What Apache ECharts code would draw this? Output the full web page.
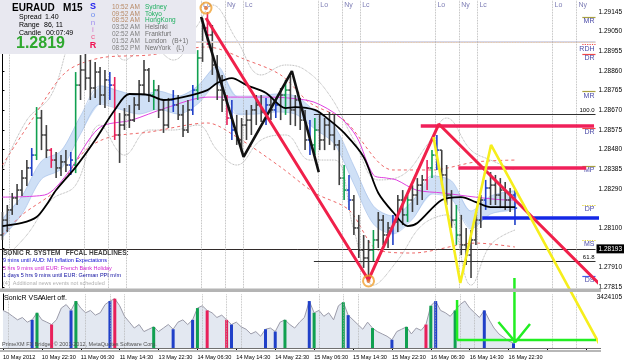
<!DOCTYPE html>
<html>
<head>
<meta charset="utf-8">
<script src="https://cdn.jsdelivr.net/npm/echarts@6/dist/echarts.min.js"></script>
<style>
html, body { margin: 0; padding: 0; background: #fff; }
#chart { width: 625px; height: 363px; }
</style>
</head>
<body>
<div id="chart"></div>
<script>
// time labels every 8 hourly bars, price scale labels
var timeLabels = ['10 May 2012', '10 May 22:30', '11 May 06:30', '11 May 14:30', '13 May 22:30', '14 May 06:30',
  '14 May 14:30', '14 May 22:30', '15 May 06:30', '15 May 14:30', '15 May 22:30', '16 May 06:30', '16 May 14:30', '16 May 22:30'];
var priceTicks = [1.27815, 1.27910, 1.28005, 1.28100, 1.28290, 1.28385, 1.28480, 1.28575, 1.28670,
  1.28765, 1.28860, 1.28955, 1.29050, 1.29145];
var bidPrice = 1.28193;
var volMax = 3424105;

// bars: [open, close, low, high]
var bars = [
  [1.28067,1.28139,1.28043,1.28178],[1.28139,1.28188,1.28081,1.28212],[1.28188,1.28246,1.28164,1.28270],
  [1.28246,1.28284,1.28212,1.28313],[1.28284,1.28342,1.28255,1.28381],[1.28342,1.28391,1.28304,1.28429],
  [1.28391,1.28453,1.28352,1.28487],[1.28453,1.28632,1.28429,1.28685],[1.28632,1.28550,1.28477,1.28671],
  [1.28550,1.28477,1.28439,1.28598],[1.28477,1.28429,1.28391,1.28487],[1.28429,1.28391,1.28342,1.28468],
  [1.28391,1.28420,1.28352,1.28453],[1.28420,1.28405,1.28371,1.28477],[1.28405,1.28429,1.28357,1.28468],
  [1.28405,1.28791,1.28366,1.28854],[1.28791,1.28864,1.28719,1.28936],[1.28864,1.28825,1.28767,1.28951],
  [1.28825,1.28777,1.28719,1.28912],[1.28777,1.28854,1.28729,1.28903],[1.28854,1.28743,1.28695,1.28878],
  [1.28743,1.28816,1.28680,1.28864],[1.28816,1.28791,1.28719,1.28854],[1.28791,1.28550,1.28526,1.28830],
  [1.28550,1.28598,1.28415,1.28656],[1.28598,1.28647,1.28574,1.28680],[1.28647,1.28622,1.28584,1.28695],
  [1.28622,1.28695,1.28613,1.28733],[1.28695,1.28791,1.28671,1.28816],[1.28791,1.28864,1.28743,1.28912],
  [1.28864,1.28743,1.28709,1.28874],[1.28743,1.28767,1.28671,1.28816],[1.28767,1.28671,1.28632,1.28791],
  [1.28671,1.28598,1.28560,1.28719],[1.28598,1.28719,1.28584,1.28729],[1.28719,1.28695,1.28661,1.28767],
  [1.28695,1.28647,1.28622,1.28743],[1.28647,1.28574,1.28540,1.28695],[1.28574,1.28671,1.28560,1.28719],
  [1.28671,1.28767,1.28647,1.28791],[1.28767,1.28922,1.28719,1.28960],[1.28922,1.29067,1.28903,1.29115],
  [1.29067,1.29033,1.28985,1.29144],[1.29033,1.28888,1.28840,1.29081],[1.28888,1.28767,1.28719,1.28936],
  [1.28767,1.28719,1.28661,1.28840],[1.28719,1.28632,1.28598,1.28743],[1.28632,1.28574,1.28526,1.28719],
  [1.28574,1.28526,1.28502,1.28647],[1.28526,1.28598,1.28468,1.28632],[1.28598,1.28622,1.28526,1.28671],
  [1.28622,1.28671,1.28550,1.28695],[1.28671,1.28695,1.28598,1.28743],[1.28695,1.28661,1.28613,1.28743],
  [1.28661,1.28695,1.28598,1.28729],[1.28695,1.28671,1.28622,1.28733],[1.28671,1.28695,1.28632,1.28719],
  [1.28695,1.28743,1.28622,1.28777],[1.28743,1.28767,1.28647,1.28816],[1.28767,1.28671,1.28598,1.28835],
  [1.28671,1.28719,1.28593,1.28743],[1.28719,1.28622,1.28574,1.28729],[1.28622,1.28526,1.28477,1.28671],
  [1.28526,1.28502,1.28453,1.28622],[1.28502,1.28574,1.28453,1.28632],[1.28574,1.28526,1.28477,1.28647],
  [1.28526,1.28598,1.28477,1.28632],[1.28598,1.28550,1.28502,1.28661],[1.28550,1.28502,1.28477,1.28647],
  [1.28502,1.28342,1.28308,1.28526],[1.28342,1.28284,1.28236,1.28405],[1.28284,1.28236,1.28188,1.28357],
  [1.28236,1.28101,1.28067,1.28260],[1.28101,1.27994,1.27956,1.28164],[1.27994,1.27956,1.27908,1.28067],
  [1.27956,1.27994,1.27859,1.28043],[1.27994,1.28043,1.27937,1.28091],[1.28043,1.28139,1.28004,1.28178],
  [1.28139,1.28067,1.28019,1.28164],[1.28067,1.28101,1.28004,1.28130],[1.28101,1.28130,1.28019,1.28164],
  [1.28130,1.28236,1.28081,1.28260],[1.28236,1.28164,1.28115,1.28284],[1.28164,1.28236,1.28130,1.28260],
  [1.28236,1.28260,1.28178,1.28308],[1.28260,1.28308,1.28212,1.28342],[1.28308,1.28333,1.28236,1.28357],
  [1.28333,1.28391,1.28284,1.28429],[1.28391,1.28453,1.28342,1.28477],[1.28453,1.28477,1.28381,1.28550],
  [1.28477,1.28357,1.28308,1.28477],[1.28357,1.28260,1.28212,1.28405],[1.28260,1.28139,1.28101,1.28284],
  [1.28139,1.28067,1.28019,1.28212],[1.28067,1.28019,1.27970,1.28164],[1.28019,1.27970,1.27922,1.28101],
  [1.27970,1.28043,1.27859,1.28091],[1.28043,1.28139,1.28019,1.28178],[1.28139,1.28236,1.28101,1.28260],
  [1.28236,1.28294,1.28188,1.28333],[1.28294,1.28308,1.28212,1.28371],[1.28308,1.28260,1.28212,1.28357],
  [1.28260,1.28284,1.28197,1.28342],[1.28284,1.28236,1.28188,1.28323],[1.28236,1.28260,1.28178,1.28294],
  [1.28260,1.28197,1.28115,1.28284]
];

var volume = [
  2382000,2233000,2010000,1786000,1935000,1638000,1786000,2233000,1786000,1638000,
  1489000,1786000,2531000,2754000,2382000,2977000,2531000,2233000,2382000,2084000,
  2233000,2754000,2977000,3126000,2680000,2010000,1638000,1265000,1489000,1042000,
  1191000,1340000,1042000,1265000,1489000,1191000,1638000,1786000,1489000,1786000,
  2531000,2680000,2382000,2233000,1935000,2084000,1786000,1489000,1638000,1340000,
  1191000,893000,1042000,744000,1191000,1265000,1042000,1638000,1786000,1489000,
  1265000,1638000,1935000,2977000,2233000,2382000,2010000,2233000,1786000,2680000,
  2903000,2084000,1786000,1489000,1191000,1638000,1265000,1042000,893000,744000,
  521000,1042000,1191000,1340000,893000,1265000,1117000,1489000,2680000,2977000,
  2382000,2233000,2010000,2382000,2754000,2977000,2531000,2233000,1935000,2382000,
  1786000,1265000,893000,670000,447000,298000
];

// VSA signal bars (bar indices)
var vsaGreen = [7, 15, 31, 40, 58, 64, 70, 76, 83, 88, 93];
var vsaBlue = [6, 14, 22, 35, 39, 47, 54, 56, 63, 71, 80, 89, 99, 105];
var vsaRed = [10, 23, 42, 46, 87];

// indicator lines [bar index, price]
var maSlow = [[0,1.28110],[4,1.28125],[7,1.28154],[9,1.28212],[11,1.28284],[15,1.28395],[19,1.28526],[23,1.28671],
  [26,1.28748],[30,1.28743],[33,1.28719],[37,1.28733],[42,1.28767],[44,1.28801],[47,1.28825],[50,1.28791],
  [54,1.28753],[58,1.28680],[60,1.28685],[64,1.28671],[67,1.28622],[70,1.28560],[74,1.28444],[77,1.28270],
  [80,1.28178],[83,1.28110],[85,1.28125],[90,1.28236],[94,1.28250],[97,1.28226],[100,1.28202],[105,1.28202]];
var maLong = [[0,1.28250],[8.6,1.28260],[13.1,1.28357],[19.8,1.28584],[26.5,1.28622],[33.4,1.28680],[42.1,1.28733],
  [48.2,1.28733],[53.7,1.28733],[58.4,1.28729],[63.8,1.28709],[69.1,1.28637],[72.6,1.28540],[76,1.28357],
  [78.7,1.28342],[80.7,1.28333],[84.8,1.28284],[90.2,1.28270],[96.9,1.28250],[103.6,1.28236],[105.4,1.28236]];
var dragonIdx = [0,4,8,12,16,20,24,28,32,36,40,44,48,52,56,60,64,68,72,76,80,84,88,92,96,100,105];
var dragonHigh = [1.28144,1.28255,1.28424,1.28473,1.28642,1.28787,1.28762,1.28738,1.28762,1.28738,1.28787,1.28883,
  1.28738,1.28738,1.28748,1.28738,1.28666,1.28593,1.28400,1.28207,1.28159,1.28231,1.28352,1.28328,1.28183,1.28255,1.28280];
var dragonLow = [1.28057,1.28168,1.28337,1.28386,1.28555,1.28700,1.28675,1.28651,1.28675,1.28651,1.28700,1.28796,
  1.28651,1.28651,1.28661,1.28651,1.28579,1.28507,1.28313,1.28120,1.28072,1.28144,1.28265,1.28241,1.28096,1.28168,1.28193];
var envUpper = [[0,1.28405],[6,1.28622],[13,1.28854],[20,1.28922],[30,1.28936],[42,1.28975],[50,1.28912],[57,1.28840],
  [63,1.28705],[70,1.28622],[80,1.28381],[88,1.28381],[97,1.28420],[105,1.28429]];
var envLower = [[0,1.28067],[4,1.28164],[11,1.28284],[17,1.28477],[22,1.28540],[30,1.28564],[42,1.28608],[48,1.28540],
  [57,1.28395],[64,1.28270],[71,1.28188],[77,1.27994],[84,1.27980],[97,1.28028],[105,1.28009]];
var bandUpper = [[0,1.28381],[5,1.28622],[10,1.28743],[15,1.29057],[20,1.29105],[25,1.28912],[30,1.28985],[35,1.28912],
  [40,1.29081],[43,1.29178],[48,1.29009],[53,1.28840],[58,1.28888],[62,1.28864],[67,1.28743],[72,1.28526],
  [77,1.28333],[82,1.28357],[87,1.28502],[91,1.28632],[96,1.28477],[100,1.28429],[105,1.28381]];
var bandLower = [[0,1.27946],[5,1.28067],[10,1.28236],[15,1.28308],[20,1.28598],[25,1.28453],[30,1.28574],[35,1.28574],
  [40,1.28598],[44,1.28477],[48,1.28405],[53,1.28526],[58,1.28550],[63,1.28429],[68,1.28429],[72,1.28091],
  [76,1.27825],[81,1.27946],[86,1.28115],[91,1.28164],[96,1.27825],[100,1.28019],[105,1.28091]];

// drawn objects
var zigRed = [[41.7,1.29115],[75,1.27850],[89.4,1.28603],[125,1.27767]];
var zigBlack = [[40.7,1.29120],[49.4,1.28444],[59.3,1.28859],[64.8,1.28371]];
var zigYellow = [[88.3,1.28540],[93.8,1.27835],[100.1,1.28502],[122.4,1.27536]];
var redLevels = [[85.7,121.2,1.28593],[93.4,119.6,1.28391]];
var blueLevel = [98.3,122.6,1.28149];
var fibLevels = [[63.8,1.28651,'100.0'],[63.8,1.27941,'61.8']];
var swingMarks = [[41.7,1.29163],[75,1.27845]];
var sessionLo = [16.7, 40.7, 64.7, 88.7, 112.7];
var sessionNy = [21.6, 45.6, 69.6, 93.6, 117.6];
var sessionLc = [1.3, 25.3, 49.3, 73.3, 97.3];
var pivotNames = ['MR', 'RDH', 'DR', 'MR', 'DR', 'MP', 'DP', 'MS', 'DS'];
var pivotPrices = [1.29120, 1.28989, 1.28941, 1.28762, 1.28584, 1.28400, 1.28212, 1.28043, 1.27869];
var pivotColors = ['#a8a040', '#f04848', '#f04848', '#a8a040', '#f04848', '#a8a040', '#e0d030', '#e0d030', '#4060f0'];
var greenMarks = [
  [[93.4,507000],[124,507000]],
  [[93.4,3043600],[93.4,507000]],
  [[105.2,4438600],[105.2,317000]],
  [[101.9,1648600],[105.4,380500],[108.4,1521800]]
];

var N = 122;
var cats = [];
for (var i = 0; i < N; i++) cats.push(i);

function barColor(i) {
  if (vsaGreen.indexOf(i) >= 0) return '#10a050';
  if (vsaBlue.indexOf(i) >= 0) return '#2040c8';
  if (vsaRed.indexOf(i) >= 0) return '#e8205a';
  return '#404040';
}

function renderOhlc(params, api) {
  var i = api.value(0);
  var o = api.coord([i, api.value(1)]);
  var c = api.coord([i, api.value(2)]);
  var l = api.coord([i, api.value(3)]);
  var h = api.coord([i, api.value(4)]);
  var st = { stroke: barColor(i), lineWidth: 1.6 };
  return {
    type: 'group',
    children: [
      { type: 'line', shape: { x1: h[0], y1: h[1], x2: l[0], y2: l[1] }, style: st },
      { type: 'line', shape: { x1: o[0] - 2.2, y1: o[1], x2: o[0], y2: o[1] }, style: st },
      { type: 'line', shape: { x1: c[0], y1: c[1], x2: c[0] + 2.2, y2: c[1] }, style: st }
    ]
  };
}

// light blue dragon band as one polygon between the high and low lines
function renderDragon(params, api) {
  var pts = [];
  dragonIdx.forEach(function (x, k) { pts.push(api.coord([x, dragonHigh[k]])); });
  for (var k = dragonIdx.length - 1; k >= 0; k--) pts.push(api.coord([dragonIdx[k], dragonLow[k]]));
  return { type: 'polygon', shape: { points: pts, smooth: 0.25 }, style: { fill: '#cfe0f6' } };
}

function overlay(pts, color, width, type, smooth, z) {
  return {
    type: 'line', xAxisIndex: 1, yAxisIndex: 0, data: pts, symbol: 'none', clip: false,
    smooth: smooth || false, z: z || 3, silent: true,
    lineStyle: { color: color, width: width, type: type || 'solid' }
  };
}

function vsaSeries(list, color) {
  return {
    type: 'bar', xAxisIndex: 2, yAxisIndex: 1, barWidth: 3, barGap: '-100%', z: 4,
    data: volume.map(function (v, i) { return list.indexOf(i) >= 0 ? v : '-'; }),
    itemStyle: { color: color }
  };
}

function txt(x, y, s, font, fill, align) {
  return { type: 'text', x: x, y: y, z: 100,
    style: { text: s, font: font, fill: fill, verticalAlign: 'middle', align: align || 'left' } };
}

var series = [];

series.push({
  type: 'custom', xAxisIndex: 1, yAxisIndex: 0, renderItem: renderDragon, z: 1, silent: true,
  data: [[0, dragonLow[0]]]
});
series.push(overlay(dragonIdx.map(function (x, k) { return [x, dragonHigh[k]]; }), '#a8c2ea', 0.7, 'solid', 0.3, 1));
series.push(overlay(dragonIdx.map(function (x, k) { return [x, dragonLow[k]]; }), '#a8c2ea', 0.7, 'solid', 0.3, 1));

series.push(overlay(bandUpper, '#9a9a9a', 0.8, 'dotted', 0.4, 2));
series.push(overlay(bandLower, '#9a9a9a', 0.8, 'dotted', 0.4, 2));
series.push(overlay(envUpper, '#e84040', 0.8, [3, 3], 0.3, 2));
series.push(overlay(envLower, '#e84040', 0.8, [3, 3], 0.3, 2));
series.push(overlay(maLong, '#e040e0', 1, 'solid', 0.3, 3));

// price bars
series.push({
  type: 'custom', xAxisIndex: 0, yAxisIndex: 0, renderItem: renderOhlc, z: 4,
  encode: { x: 0, y: [1, 2, 3, 4] },
  data: bars.map(function (b, i) { return [i, b[0], b[1], b[2], b[3]]; })
});

series.push(overlay(maSlow, '#000000', 1.8, 'solid', 0.3, 5));

// horizontal levels, session lines and labels
series.push({
  type: 'scatter', xAxisIndex: 1, yAxisIndex: 0, symbolSize: 0, z: 6, silent: true,
  data: [],
  markLine: {
    symbol: 'none', silent: true, animation: false,
    label: { show: false },
    data: [
      { yAxis: 1.28999, lineStyle: { color: '#d6d6e6', width: 2, type: 'solid' } },
      { yAxis: 1.28753, lineStyle: { color: '#f4c890', width: 0.8, type: 'dotted' } },
      { yAxis: 1.28497, lineStyle: { color: '#a8e0a0', width: 0.8, type: 'dotted' } },
      { yAxis: 1.28255, lineStyle: { color: '#f6c8cc', width: 0.8, type: 'solid' } },
      { yAxis: bidPrice, lineStyle: { color: '#000', width: 0.8, type: 'solid' },
        label: { show: true, position: 'end', formatter: bidPrice.toFixed(5), color: '#fff',
          backgroundColor: '#000', fontSize: 6.5, padding: [1, 2], distance: 1, fontFamily: 'Liberation Sans' } }
    ].concat(sessionLo.concat(sessionNy, sessionLc).map(function (x) {
      return { xAxis: x, lineStyle: { color: '#a8a8a8', width: 0.8, type: 'dotted' } };
    })).concat(fibLevels.map(function (f) {
      return [{ coord: [f[0], f[1]], lineStyle: { color: '#303030', width: 1, type: 'solid' },
        label: { show: true, position: 'insideEndTop', formatter: f[2], fontSize: 6, color: '#000',
          distance: 1, fontFamily: 'Liberation Sans' } }, { coord: [N - 0.5, f[1]] }];
    })).concat(pivotNames.map(function (n, k) {
      return [{ coord: [118.8, pivotPrices[k]], lineStyle: { color: pivotColors[k], width: 1.2, type: n === 'RDH' || n === 'DP' || n === 'MS' ? 'dotted' : 'solid' },
        label: { show: true, position: 'insideEndBottom', formatter: n, fontSize: 7, color: '#4a4aa8',
          distance: 1, fontFamily: 'Liberation Sans' } }, { coord: [N - 0.5, pivotPrices[k]] }];
    }))
  }
});

['Lo', 'Ny', 'Lc'].forEach(function (name, k) {
  var xs = [sessionLo, sessionNy, sessionLc][k];
  series.push({
    type: 'scatter', xAxisIndex: 1, yAxisIndex: 0, symbolSize: 0, z: 6, silent: true,
    data: xs.map(function (x) { return [x, 1.29176]; }),
    label: { show: true, position: 'right', distance: 2, formatter: name, fontSize: 7, color: '#5a5aa0',
      fontFamily: 'Liberation Sans' }
  });
});

// drawn trend objects
redLevels.forEach(function (r) {
  series.push(overlay([[r[0], r[2]], [r[1], r[2]]], '#f0205a', 3.5, 'solid', false, 7));
});
series.push(overlay([[blueLevel[0], blueLevel[2]], [blueLevel[1], blueLevel[2]]], '#1428e6', 3.5, 'solid', false, 7));
series.push(overlay(zigBlack, '#111111', 2.6, 'solid', false, 8));
series.push(overlay(zigRed, '#f0204a', 3, 'solid', false, 8));
series.push(overlay(zigYellow, '#f6ee1c', 2.6, 'solid', false, 8));

series.push({
  type: 'scatter', xAxisIndex: 1, yAxisIndex: 0, symbol: 'circle', symbolSize: 11, z: 9, silent: true,
  data: swingMarks, itemStyle: { color: 'rgba(255,255,255,0)', borderColor: '#f0a030', borderWidth: 2 }
});
series.push({
  type: 'scatter', xAxisIndex: 1, yAxisIndex: 0, symbol: 'circle', symbolSize: 4, z: 9, silent: true,
  data: swingMarks, itemStyle: { color: '#e06820' }
});

// indicator window
series.push({
  type: 'line', xAxisIndex: 2, yAxisIndex: 1, data: volume, symbol: 'none', z: 2,
  lineStyle: { color: '#9c9caa', width: 1 }, areaStyle: { color: '#e3e8f1', opacity: 1 },
  markLine: {
    symbol: 'none', silent: true, label: { show: false },
    data: sessionLo.concat(sessionNy, sessionLc).map(function (x) {
      return { xAxis: Math.round(x), lineStyle: { color: '#b0b0b0', width: 0.8, type: 'dotted' } };
    })
  }
});
series.push(vsaSeries(vsaBlue, '#2040c8'));
series.push(vsaSeries(vsaGreen, '#10a050'));
series.push(vsaSeries(vsaRed, '#e8205a'));
greenMarks.forEach(function (g) {
  series.push({
    type: 'line', xAxisIndex: 3, yAxisIndex: 1, data: g, symbol: 'none', clip: false, z: 10,
    lineStyle: { color: '#22ee22', width: 2.5 }
  });
});

var graphics = [
  { type: 'rect', z: 99, shape: { x: 0, y: 0, width: 196, height: 54 }, style: { fill: '#e8e8f0' } },
  txt(12, 8, 'EURAUD   M15', 'bold 10px "Liberation Sans"', '#000'),
  txt(19, 17, 'Spread', '7px "Liberation Sans"', '#000'),
  txt(45, 17, '1.40', '7px "Liberation Sans"', '#000'),
  txt(19, 25, 'Range', '7px "Liberation Sans"', '#000'),
  txt(44, 25, '86, 11', '7px "Liberation Sans"', '#000'),
  txt(19, 33, 'Candle', '7px "Liberation Sans"', '#000'),
  txt(46, 33, '00:07:49', '7px "Liberation Sans"', '#000'),
  txt(16, 44, '1.2819', 'bold 16px "Liberation Sans"', '#2fa82f'),
  txt(93, 7, 'S', 'bold 9px "Liberation Sans"', '#2020ee', 'center'),
  txt(93, 15, 'o', '8px "Liberation Sans"', '#6c8cf0', 'center'),
  txt(93, 23, 'n', '8px "Liberation Sans"', '#a090f0', 'center'),
  txt(93, 30, 'i', '8px "Liberation Sans"', '#d080d0', 'center'),
  txt(93, 37, 'c', '8px "Liberation Sans"', '#f06090', 'center'),
  txt(93, 46, 'R', 'bold 9px "Liberation Sans"', '#f01050', 'center')
];
var clockTimes = ['10:52 AM', '09:52 AM', '08:52 AM', '03:52 AM', '02:52 AM', '01:52 AM', '08:52 PM'];
var clockCities = ['Sydney', 'Tokyo', 'HongKong', 'Helsinki', 'Frankfurt', 'London   (B+1)', 'NewYork   (L)'];
clockTimes.forEach(function (t, k) {
  var y = 7 + k * 6.8;
  graphics.push(txt(112, y, t, '6.5px "Liberation Sans"', k < 3 ? '#b88a66' : '#808080'));
  graphics.push(txt(145, y, clockCities[k], '6.5px "Liberation Sans"', k < 3 ? '#20b060' : '#707070'));
});
var headlines = [
  ['SONIC R. SYSTEM   FFCAL HEADLINES:', '#404040', 'bold 6.5px "Liberation Sans"'],
  ['9 mins until AUD: MI Inflation Expectations', '#1010d0', '5.5px "Liberation Sans"'],
  ['5 hrs 9 mins until EUR: French Bank Holiday', '#d020d0', '5.5px "Liberation Sans"'],
  ['1 days 5 hrs 9 mins until EUR: German PPI m/m', '#1010a0', '5.5px "Liberation Sans"'],
  ['(4)  Additional news events not scheduled', '#b0b0b0', '5.5px "Liberation Sans"']
];
headlines.forEach(function (h, k) {
  graphics.push(txt(3, 253 + k * 7.5, h[0], h[2], h[1]));
});
graphics.push(txt(4, 298, 'SonicR VSA', '7px "Liberation Sans"', '#000'));
graphics.push(txt(41, 298, 'Alert off.', '7px "Liberation Sans"', '#000'));
graphics.push({ type: 'rect', z: 50, shape: { x: 0, y: 288.5, width: 601, height: 3.5 }, style: { fill: '#b4b4b4' } });
graphics.push({ type: 'rect', z: 50, shape: { x: 0, y: 348, width: 601, height: 1 }, style: { fill: '#707070' } });
graphics.push({ type: 'rect', z: 50, shape: { x: 0, y: 350.5, width: 601, height: 1 }, style: { fill: '#707070' } });
graphics.push(txt(2, 344, 'PrimeXM FX Bridge, \u00a9 2001-2012, MetaQuotes Software Corp.', '5.5px "Liberation Sans"', '#505050'));

var chart = echarts.init(document.getElementById('chart'), null, { renderer: 'canvas' });
chart.setOption({
  animation: false,
  backgroundColor: '#ffffff',
  grid: [
    { left: 0, top: 0, width: 601, height: 288 },
    { left: 0, top: 294, width: 601, height: 54 }
  ],
  xAxis: [
    { type: 'category', gridIndex: 0, data: cats, show: false },
    { type: 'value', gridIndex: 0, min: -0.5, max: N - 0.5, show: false },
    { type: 'category', gridIndex: 1, data: cats,
      axisLine: { show: false },
      axisTick: { show: true, alignWithLabel: true, length: 2, lineStyle: { color: '#000' },
        interval: function (i) { return i % 8 === 0; } },
      axisLabel: { interval: function (i) { return i % 8 === 0; }, align: 'left', margin: 6,
        fontSize: 5.6, color: '#000', fontFamily: 'Liberation Sans',
        formatter: function (v, i) { return timeLabels[i / 8] || ''; } },
      splitLine: { show: false } },
    { type: 'value', gridIndex: 1, min: -0.5, max: N - 0.5, show: false }
  ],
  yAxis: [
    { type: 'value', gridIndex: 0, position: 'right', min: 1.27811, max: 1.29202,
      axisLine: { show: true, lineStyle: { color: '#000', width: 1 } },
      axisTick: { show: true, length: 2, customValues: priceTicks, lineStyle: { color: '#000' } },
      axisLabel: { customValues: priceTicks, fontSize: 6.5, color: '#000', margin: 3, fontFamily: 'Liberation Sans',
        formatter: function (v) { return v.toFixed(5); } },
      splitLine: { show: false } },
    { type: 'value', gridIndex: 1, position: 'right', min: 0, max: volMax,
      axisLine: { show: true, lineStyle: { color: '#000', width: 1 } },
      axisTick: { show: false },
      axisLabel: { customValues: [volMax], fontSize: 6.5, color: '#000', margin: 3, fontFamily: 'Liberation Sans',
        verticalAlign: 'top', formatter: function (v) { return String(v); } },
      splitLine: { show: false } }
  ],
  series: series,
  graphic: graphics
});
</script>
</body>
</html>
